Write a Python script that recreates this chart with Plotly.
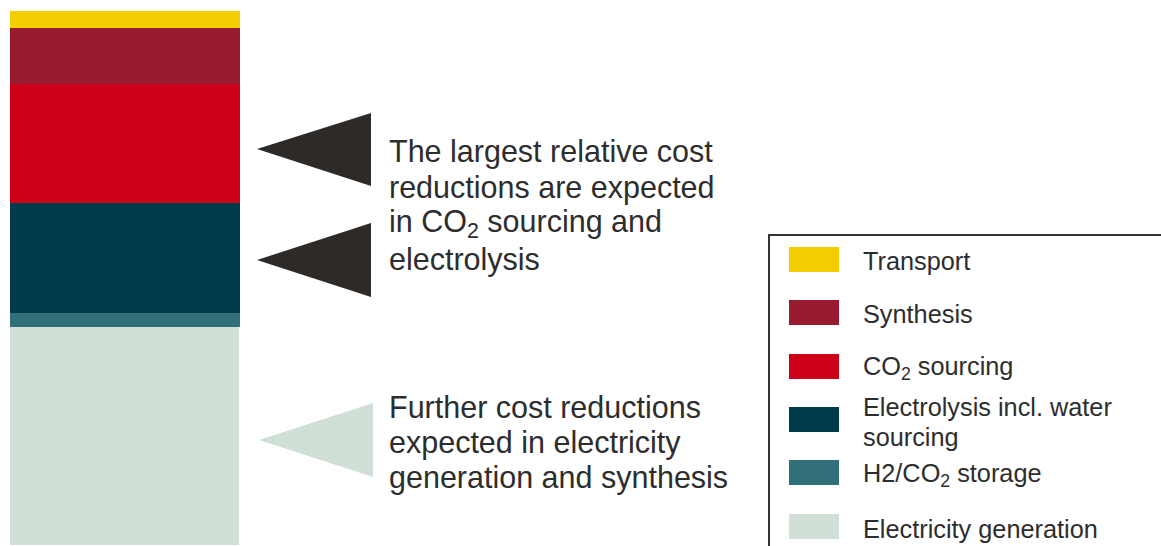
import plotly.graph_objects as go

W, H = 1161, 546

# ---- data (share of total cost, %) ----
categories = ["Electricity generation", "H2/CO<sub>2</sub> storage",
              "Electrolysis incl. water sourcing", "CO<sub>2</sub> sourcing",
              "Synthesis", "Transport"]
values = [41.0, 2.5, 20.6, 22.2, 10.5, 3.2]
colors = ["#D0E0D6", "#31707A", "#003B4B", "#CE0019", "#981B2F", "#F2CD00"]

legend_labels = ["Transport", "Synthesis", "CO<sub>2</sub> sourcing",
                 "Electrolysis incl. water<br>sourcing", "H2/CO<sub>2</sub> storage",
                 "Electricity generation"]
legend_colors = ["#F2CD00", "#981B2F", "#CE0019", "#003B4B", "#31707A", "#D0E0D6"]

note_top = ["The largest relative cost", "reductions are expected",
            "in CO<sub>2</sub> sourcing and", "electrolysis"]
note_bottom = ["Further cost reductions", "expected in electricity",
               "generation and synthesis"]

TEXT = "#2D2D2D"
DARK_TRI = "#2E2A27"
FONT = "Liberation Sans"


def px(x):
    return x / W


def py(y):
    return 1 - y / H


fig = go.Figure()
for cat, v, c in zip(categories, values, colors):
    line = dict(width=1, color="white") if cat == "Electricity generation" else dict(width=0)
    fig.add_trace(go.Bar(x=[0], y=[v], name=cat, width=1,
                         marker=dict(color=c, line=line),
                         hoverinfo="skip", showlegend=False))

total = sum(values)
y_max = total * H / (H - 11)

shapes = []
annotations = []


def tri(tip, top, bot, color):
    path = (f"M {px(tip[0])},{py(tip[1])} L {px(top[0])},{py(top[1])} "
            f"L {px(bot[0])},{py(bot[1])} Z")
    return dict(type="path", xref="paper", yref="paper", path=path,
                fillcolor=color, line=dict(width=0), layer="above")


shapes.append(tri((257, 149), (371, 113), (371, 186), DARK_TRI))
shapes.append(tri((257, 260), (371, 223), (371, 297), DARK_TRI))
shapes.append(tri((259, 440), (373, 403), (373, 477), colors[0]))

for i, t in enumerate(note_top):
    annotations.append(dict(x=px(387), y=py(151.6 + 36 * i), xref="paper", yref="paper",
                            text=t, showarrow=False, xanchor="left", yanchor="middle",
                            font=dict(size=30.5, color=TEXT, family=FONT)))
for i, t in enumerate(note_bottom):
    annotations.append(dict(x=px(387), y=py(407 + 35 * i), xref="paper", yref="paper",
                            text=t, showarrow=False, xanchor="left", yanchor="middle",
                            font=dict(size=30.5, color=TEXT, family=FONT)))

# legend box
shapes.append(dict(type="rect", xref="paper", yref="paper",
                   x0=px(769), x1=px(W + 20), y0=py(235), y1=py(H + 20),
                   line=dict(color="#333333", width=2), fillcolor="rgba(0,0,0,0)"))

swatch_top = [247, 300, 354, 407, 460, 514]
label_y = [[261], [314], [368], [407, 437], [474.5], [528.5]]
for lab, c, st, ly in zip(legend_labels, legend_colors, swatch_top, label_y):
    shapes.append(dict(type="rect", xref="paper", yref="paper",
                       x0=px(789), x1=px(839), y0=py(st), y1=py(st + 25),
                       fillcolor=c, line=dict(width=0)))
    for part, yy in zip(lab.split("<br>"), ly):
        annotations.append(dict(x=px(861), y=py(yy), xref="paper", yref="paper",
                                text=part, showarrow=False, xanchor="left", yanchor="middle",
                                font=dict(size=25.3, color=TEXT, family=FONT)))

fig.update_layout(
    width=W, height=H, barmode="stack",
    margin=dict(l=0, r=0, t=0, b=0),
    paper_bgcolor="white", plot_bgcolor="white",
    font=dict(family=FONT, color=TEXT),
    xaxis=dict(domain=[px(10), px(240)], range=[-0.5, 0.5], visible=False, fixedrange=True),
    yaxis=dict(domain=[0, 1], range=[0, y_max], visible=False, fixedrange=True),
    shapes=shapes, annotations=annotations, bargap=0,
)

fig.write_html("out.html", config={"displayModeBar": False},
               post_script="document.body.style.margin='0px';"
                           "document.body.style.overflow='hidden';")
